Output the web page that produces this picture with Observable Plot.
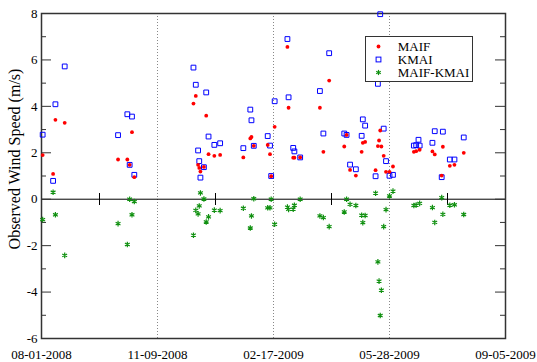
<!DOCTYPE html>
<html><head><meta charset="utf-8">
<script src="https://cdn.jsdelivr.net/npm/d3@7"></script>
<script src="https://cdn.jsdelivr.net/npm/@observablehq/plot@0.6"></script>
<style>
body{margin:0;background:#fff;}
#wrap{position:relative;width:537px;height:362px;font-family:"Liberation Serif",serif;}
#legend{position:absolute;left:365px;top:36px;width:108px;height:46px;box-sizing:border-box;border:1.5px solid #333;background:#fff;font-size:13px;color:#000;}
.row{position:absolute;left:0;height:13px;line-height:13px;}
.row svg{position:absolute;left:5.7px;top:0;}
.row span{position:absolute;display:block;left:31.8px;top:0;height:13px;line-height:13px;white-space:nowrap;}
</style></head><body><div id="wrap"></div>
<script>
// observation dates
const dates = ["2008-08-02","2008-08-11","2008-08-13","2008-08-21","2008-10-06","2008-10-14","2008-10-16","2008-10-18","2008-10-20",
"2008-12-10","2008-12-12","2008-12-14","2008-12-15","2008-12-16","2008-12-19","2008-12-21","2008-12-23","2008-12-28","2009-01-02",
"2009-01-22","2009-01-28","2009-01-29","2009-01-31","2009-02-12","2009-02-14","2009-02-15","2009-02-18","2009-03-01","2009-03-02",
"2009-03-06","2009-03-07","2009-03-12","2009-03-29","2009-04-01","2009-04-06","2009-04-19","2009-04-21","2009-04-24","2009-04-29",
"2009-05-04","2009-05-05","2009-05-07","2009-05-16","2009-05-18","2009-05-19","2009-05-20","2009-05-21","2009-05-23","2009-05-25",
"2009-05-28","2009-05-31","2009-06-18","2009-06-20","2009-06-22","2009-06-23","2009-07-04","2009-07-06","2009-07-12","2009-07-13",
"2009-07-19","2009-07-23","2009-07-31"];
const maif = [1.90,1.09,3.42,3.29,1.71,1.71,1.48,2.89,0.95,
4.12,4.45,1.48,1.35,1.19,1.39,3.60,1.94,1.87,1.91,
1.80,2.62,2.68,2.30,2.34,1.94,0.99,3.12,6.56,3.94,
1.79,1.79,1.80,3.94,2.04,5.11,2.27,2.77,1.26,1.02,
2.04,2.43,2.47,1.25,2.29,2.53,2.96,2.27,1.87,1.18,
1.18,1.41,2.04,2.07,null,2.13,2.06,1.93,1.02,2.26,
1.44,1.48,2.00];
const kmai = [2.78,0.79,4.09,5.72,2.76,3.66,1.48,3.56,1.05,
5.67,4.93,2.10,1.64,0.93,1.38,4.60,2.70,2.34,2.41,
2.20,3.86,3.40,2.30,2.72,2.31,1.00,4.22,6.90,4.39,
2.21,2.06,1.80,4.66,2.83,6.29,2.83,2.77,1.49,1.29,
2.73,3.44,3.17,0.99,4.97,6.06,7.97,6.19,3.04,1.64,
1.01,1.05,2.31,2.33,2.56,2.31,2.43,2.93,0.95,2.91,
1.71,1.71,2.66];
const diff = [-0.88,0.30,-0.67,-2.42,-1.05,-1.95,0.00,-0.67,-0.10,
-1.55,-0.48,-0.63,-0.29,0.27,0.01,-0.98,-0.76,-0.47,-0.49,
-0.39,-1.24,-0.72,0.02,-0.37,-0.37,0.00,-1.08,-0.34,-0.44,
-0.43,-0.26,0.00,-0.72,-0.79,-1.18,-0.55,0.00,-0.22,-0.27,
-0.69,-1.01,-0.70,0.26,-2.70,-3.53,-5.01,-3.92,-1.18,-0.45,
0.14,0.35,-0.27,-0.25,null,-0.18,-0.36,-1.00,0.07,-0.65,
-0.26,-0.24,-0.66];
// axis ticks
const xTicks = ["2008-08-01","2008-11-09","2009-02-17","2009-05-28","2009-09-05"];
const gridDates = ["2008-11-09","2009-02-17","2009-05-28"];
const zeroMinor = ["2008-09-20","2008-12-29","2009-04-08","2009-07-17"];
const yMajor = [-6,-4,-2,0,2,4,6,8];
const yMinor = [-5,-3,-1,1,3,5,7];
const seriesNames = ["MAIF","KMAI","MAIF-KMAI"];
const yLabel = "Observed Wind Speed (m/s)";

const parse = d3.utcParse("%Y-%m-%d");
const rows = dates.map((d,i)=>({date: parse(d), maif: maif[i], kmai: kmai[i], diff: diff[i]}));
const W=537,H=362,mL=41,mR=32,mT=13,mB=24, fW=W-mL-mR;
const red="#ff0000", blue="#0000ff", green="#109010", ink="#333";

const chart = Plot.plot({
  width:W, height:H, marginLeft:mL, marginRight:mR, marginTop:mT, marginBottom:mB,
  style:{fontFamily:'"Liberation Serif", serif', fontSize:"13px", color:"#000", background:"transparent", overflow:"visible"},
  x:{type:"utc", domain:[parse(xTicks[0]), parse(xTicks[xTicks.length-1])]},
  y:{domain:[-6,8]},
  marks:[
    Plot.ruleX(gridDates.map(parse), {stroke:"#888", strokeDasharray:"1,2"}),
    Plot.ruleY([0], {stroke:"#000"}),
    Plot.tickX(zeroMinor.map(parse), {stroke:"#000", insetTop:180, insetBottom:133}),
    Plot.tickY(yMajor, {y:d=>d, stroke:ink, insetRight:fW-10}),
    Plot.tickY(yMinor, {y:d=>d, stroke:ink, insetRight:fW-5}),
    Plot.tickY(yMajor, {y:d=>d, stroke:ink, insetLeft:fW-10}),
    Plot.tickY(yMinor, {y:d=>d, stroke:ink, insetLeft:fW-5}),
    Plot.frame({stroke:ink, strokeWidth:1.5}),
    Plot.axisX({ticks:xTicks.map(parse), tickSize:0, tickPadding:11, tickFormat:d3.utcFormat("%m-%d-%Y"), label:null}),
    Plot.axisY({ticks:yMajor, tickSize:0, tickPadding:4, tickFormat:d=>String(d), label:null}),
    Plot.text([yLabel], {frameAnchor:"left", textAnchor:"middle", lineAnchor:"middle", dx:-27, dy:-17, rotate:-90, fontSize:16}),
    Plot.dot(rows, {x:"date", y:"diff", symbol:"asterisk", r:2.6, stroke:green, strokeWidth:1.2}),
    Plot.dot(rows, {x:"date", y:"kmai", symbol:"square", r:2.7, stroke:blue, strokeWidth:1}),
    Plot.dot(rows, {x:"date", y:"maif", r:1.9, fill:red, stroke:"none"})
  ]
});
const wrap = document.getElementById("wrap");
wrap.appendChild(chart);

const markers = [
  `<circle cx="6.5" cy="6.5" r="1.9" fill="${red}"/>`,
  `<rect x="4.1" y="4.1" width="4.8" height="4.8" fill="none" stroke="${blue}"/>`,
  `<g stroke="${green}" stroke-width="1.2"><line x1="6.5" y1="3.9" x2="6.5" y2="9.1"/><line x1="4.2" y1="5.2" x2="8.8" y2="7.8"/><line x1="4.2" y1="7.8" x2="8.8" y2="5.2"/></g>`
];
const legend = document.createElement("div");
legend.id = "legend";
const tops = [2.5, 15.8, 29];
seriesNames.forEach((n,i)=>{
  const r = document.createElement("div");
  r.className = "row";
  r.style.top = tops[i]+"px";
  r.innerHTML = `<svg width="13" height="13">${markers[i]}</svg><span>${n}</span>`;
  legend.appendChild(r);
});
wrap.appendChild(legend);
</script></body></html>
